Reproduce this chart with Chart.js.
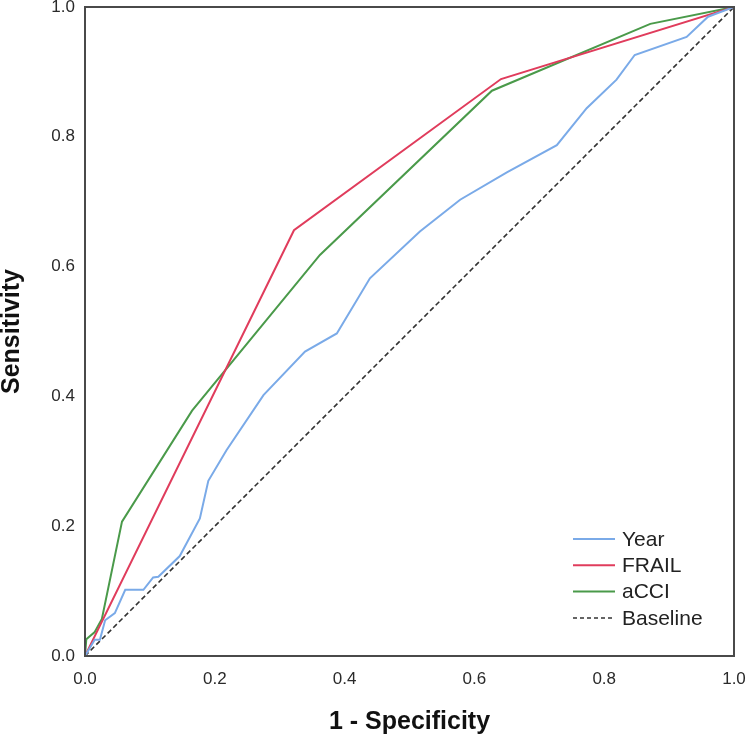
<!DOCTYPE html>
<html>
<head>
<meta charset="utf-8">
<script src="https://cdn.jsdelivr.net/npm/chart.js@4.4.1/dist/chart.umd.min.js"></script>
<style>
  html, body { margin: 0; padding: 0; background: #fff; }
  #wrap { width: 750px; height: 742px; }
</style>
</head>
<body>
<div id="wrap"><canvas id="roc-chart"></canvas></div>
<script>
const rocCanvas = document.getElementById("roc-chart");

// values
const tickValues = [0, 0.2, 0.4, 0.6, 0.8, 1.0];

const yearX = [0, 0.015, 0.023, 0.031, 0.046, 0.062, 0.090, 0.105, 0.113, 0.146, 0.177, 0.190, 0.218, 0.275, 0.339, 0.388, 0.439, 0.516, 0.578, 0.650, 0.727, 0.773, 0.819, 0.847, 0.927, 0.960, 1];
const yearY = [0, 0.025, 0.025, 0.055, 0.066, 0.102, 0.102, 0.121, 0.122, 0.154, 0.212, 0.270, 0.317, 0.402, 0.469, 0.497, 0.582, 0.654, 0.703, 0.745, 0.787, 0.844, 0.888, 0.926, 0.954, 0.985, 1];

const frailX = [0, 0.322, 0.641, 1];
const frailY = [0, 0.656, 0.889, 1];

const acciX = [0, 0.002, 0.015, 0.026, 0.057, 0.165, 0.362, 0.627, 0.871, 1];
const acciY = [0, 0.026, 0.037, 0.057, 0.207, 0.378, 0.618, 0.871, 0.974, 1];

const baselineX = [0, 1];
const baselineY = [0, 1];

function toPoints(xs, ys) {
  return xs.map((x, i) => ({ x: x, y: ys[i] }));
}

// draws the box round the plot and the legend in the lower right corner
const frameAndLegend = {
  id: "frameAndLegend",
  afterDatasetsDraw(chart) {
    const ctx = chart.ctx;
    const area = chart.chartArea;
    ctx.save();
    ctx.strokeStyle = "#4a4a4a";
    ctx.lineWidth = 2;
    ctx.strokeRect(area.left, area.top, area.right - area.left, area.bottom - area.top);

    // legend
    const lineStart = area.right - 161;
    const lineEnd = area.right - 119;
    const textX = area.right - 112;
    let y = area.bottom - 117;
    ctx.font = "21px 'Liberation Sans', Arial, sans-serif";
    ctx.textBaseline = "middle";
    ctx.textAlign = "left";
    chart.data.datasets.forEach((ds) => {
      ctx.beginPath();
      ctx.strokeStyle = ds.borderColor;
      ctx.lineWidth = ds.legendDash ? 1.5 : 2;
      ctx.setLineDash(ds.legendDash || []);
      ctx.moveTo(lineStart, y);
      ctx.lineTo(lineEnd, y);
      ctx.stroke();
      ctx.setLineDash([]);
      ctx.fillStyle = "#222";
      ctx.fillText(ds.label, textX, y + 1);
      y += 26.3;
    });
    ctx.restore();
  },
};

const rocChart = new Chart(rocCanvas, {
  type: "line",
  data: {
    datasets: [
      {
        label: "Year",
        data: toPoints(yearX, yearY),
        borderColor: "rgb(122, 170, 232)",
        borderWidth: 2,
      },
      {
        label: "FRAIL",
        data: toPoints(frailX, frailY),
        borderColor: "rgb(224, 60, 92)",
        borderWidth: 2,
      },
      {
        label: "aCCI",
        data: toPoints(acciX, acciY),
        borderColor: "rgb(74, 154, 74)",
        borderWidth: 2,
      },
      {
        label: "Baseline",
        data: toPoints(baselineX, baselineY),
        borderColor: "#333",
        borderWidth: 1.6,
        borderDash: [5, 3],
        legendDash: [4, 3],
      },
    ],
  },
  options: {
    responsive: true,
    maintainAspectRatio: false,
    animation: false,
    elements: {
      point: { radius: 0, hoverRadius: 0 },
      line: { tension: 0, fill: false },
    },
    layout: {
      padding: { top: 7, right: 16, bottom: 0, left: 0 },
    },
    scales: {
      x: {
        type: "linear",
        min: 0,
        max: 1,
        grid: { display: false, drawTicks: false },
        border: { display: false },
        afterBuildTicks(scale) {
          scale.ticks = tickValues.map((v) => ({ value: v }));
        },
        ticks: {
          padding: 13,
          color: "#2a2a2a",
          font: { family: "'Liberation Sans', Arial, sans-serif", size: 17 },
          maxRotation: 0,
          callback: (v) => v.toFixed(1),
        },
        title: {
          display: true,
          text: "1 - Specificity",
          color: "#111",
          font: { family: "'Liberation Sans', Arial, sans-serif", size: 25, weight: "bold", lineHeight: 1 },
          padding: { top: 0, bottom: 7.5 },
        },
        afterFit(scale) {
          scale.height = 86;
          scale.paddingLeft = 0;
          scale.paddingRight = 0;
        },
      },
      y: {
        type: "linear",
        min: 0,
        max: 1,
        grid: { display: false, drawTicks: false },
        border: { display: false },
        afterBuildTicks(scale) {
          scale.ticks = tickValues.map((v) => ({ value: v }));
        },
        ticks: {
          padding: 10,
          color: "#2a2a2a",
          font: { family: "'Liberation Sans', Arial, sans-serif", size: 17 },
          callback: (v) => v.toFixed(1),
        },
        title: {
          display: true,
          text: "Sensitivity",
          color: "#111",
          font: { family: "'Liberation Sans', Arial, sans-serif", size: 25, weight: "bold", lineHeight: 1 },
          padding: { top: 0, bottom: 0 },
        },
        afterFit(scale) {
          scale.width = 85;
          scale.paddingTop = 0;
          scale.paddingBottom = 0;
        },
      },
    },
    plugins: {
      legend: { display: false },
      tooltip: { enabled: false },
    },
  },
  plugins: [frameAndLegend],
});
</script>
</body>
</html>
